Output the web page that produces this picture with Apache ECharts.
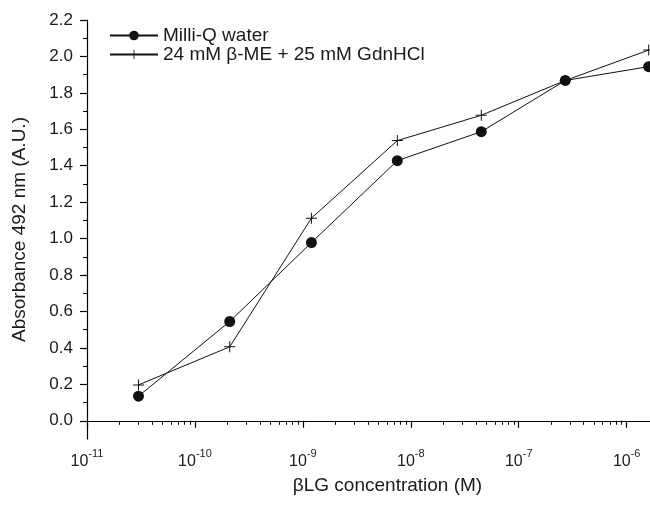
<!DOCTYPE html>
<html>
<head>
<meta charset="utf-8">
<script src="https://cdn.jsdelivr.net/npm/echarts@6/dist/echarts.min.js"></script>
<style>html,body{margin:0;padding:0;background:#fff}#c{width:650px;height:505px}</style>
</head>
<body>
<div id="c"></div>
<script>
// Data
const concentrations = [3e-11, 2.1e-10, 1.2e-9, 7.5e-9, 4.5e-8, 2.7e-7, 1.6e-6];
const milliQ = [0.135, 0.545, 0.978, 1.428, 1.587, 1.868, 1.944];
const bmeGdn = [0.197, 0.406, 1.112, 1.538, 1.677, 1.868, 2.035];
const seriesNames = ['Milli-Q water', '24 mM \u03b2-ME + 25 mM GdnHCl'];
const xMajorTicks = [1e-11, 1e-10, 1e-9, 1e-8, 1e-7, 1e-6];
const xMinorTicks = [];
xMajorTicks.forEach(d => { for (let k = 2; k <= 9; k++) xMinorTicks.push(d * k); });
const yMajorTicks = [0, 0.2, 0.4, 0.6, 0.8, 1.0, 1.2, 1.4, 1.6, 1.8, 2.0, 2.2];
const yMinorTicks = [0.1, 0.3, 0.5, 0.7, 0.9, 1.1, 1.3, 1.5, 1.7, 1.9, 2.1];

const FONT = "'Liberation Sans', Arial, sans-serif";
const TXT = '#1a1a1a';
const XMIN = 1e-11, XMAX = 3.7e-6, YMIN = -0.1, YMAX = 2.2;

const chart = echarts.init(document.getElementById('c'), null, {renderer: 'canvas'});
const plusPath = 'path://M0,4.55H10V5.45H0Z M4.55,0H5.45V10H4.55Z';

chart.setOption({
  animation: false,
  backgroundColor: '#fff',
  textStyle: {fontFamily: FONT, color: TXT},
  grid: {left: 87, top: 20, bottom: 66, width: 601, containLabel: false, outerBoundsMode: 'none'},
  legend: {
    orient: 'vertical', left: 104, top: 21,
    itemWidth: 48, itemHeight: 12, itemGap: 0,
    textStyle: {fontFamily: FONT, fontSize: 19, lineHeight: 18, color: TXT},
    data: seriesNames
  },
  xAxis: [{
    type: 'log', logBase: 10, min: XMIN, max: XMAX,
    name: '\u03b2LG concentration (M)', nameLocation: 'middle', nameGap: 37,
    nameTextStyle: {fontFamily: FONT, fontSize: 19, color: TXT},
    axisLine: {lineStyle: {color: '#000', width: 1.2}},
    axisTick: {show: true, inside: false, length: 7, lineStyle: {color: '#000', width: 1.2}, customValues: xMajorTicks},
    splitLine: {show: false},
    axisLabel: {
      customValues: xMajorTicks, margin: 9, color: TXT,
      formatter: v => '{n|10}{s|' + Math.round(Math.log10(v)) + '}',
      rich: {
        n: {fontFamily: FONT, fontSize: 16, color: TXT, verticalAlign: 'bottom', padding: [6, 0, 0, 0]},
        s: {fontFamily: FONT, fontSize: 11, color: TXT, verticalAlign: 'top'}
      }
    }
  }, {
    type: 'log', logBase: 10, min: XMIN, max: XMAX, position: 'bottom',
    axisLine: {show: false},
    axisTick: {show: true, inside: false, length: 4, lineStyle: {color: '#000', width: 1}, customValues: xMinorTicks},
    axisLabel: {show: false}, splitLine: {show: false}
  }],
  yAxis: [{
    type: 'value', min: YMIN, max: YMAX,
    name: 'Absorbance 492 nm (A.U.)', nameLocation: 'middle', nameGap: 58,
    nameTextStyle: {fontFamily: FONT, fontSize: 19, color: TXT},
    axisLine: {show: true, lineStyle: {color: '#000', width: 1.2}},
    axisTick: {show: true, inside: false, length: 7, lineStyle: {color: '#000', width: 1.2}, customValues: yMajorTicks},
    splitLine: {show: false},
    axisLabel: {customValues: yMajorTicks, margin: 14, fontFamily: FONT, fontSize: 17, color: TXT, formatter: v => v.toFixed(1)}
  }, {
    type: 'value', min: YMIN, max: YMAX, position: 'left',
    axisLine: {show: false},
    axisTick: {show: true, inside: false, length: 4, lineStyle: {color: '#000', width: 1}, customValues: yMinorTicks},
    axisLabel: {show: false}, splitLine: {show: false}
  }],
  series: [{
    name: seriesNames[0], type: 'line',
    data: concentrations.map((c, i) => [c, milliQ[i]]),
    symbol: 'circle', symbolSize: 11,
    itemStyle: {color: '#111'},
    lineStyle: {color: '#111', width: 1},
    clip: false, z: 3
  }, {
    name: seriesNames[1], type: 'line',
    data: concentrations.map((c, i) => [c, bmeGdn[i]]),
    symbol: plusPath, symbolSize: 11,
    itemStyle: {color: '#111'},
    lineStyle: {color: '#111', width: 1},
    clip: false, z: 2
  }]
});
</script>
</body>
</html>
